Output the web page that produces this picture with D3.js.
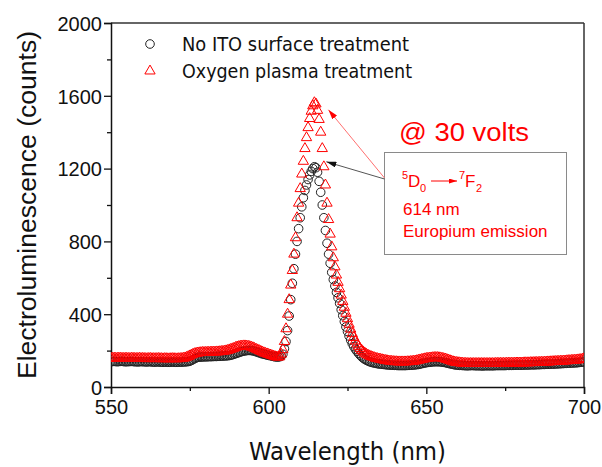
<!DOCTYPE html>
<html>
<head>
<meta charset="utf-8">
<script src="https://cdn.jsdelivr.net/npm/d3@7"></script>
<style>
    body { margin: 0; background: #fff; }
    svg { display: block; }
</style>
</head>
<body>
<div id="chart"></div>
<script>
//Data: one reading every 0.5 nm, 550 - 700 nm
var wavelengths = d3.range(550, 700.25, 0.5);

var noTreatment = [
    140,140,141,140,139,140,141,141,140,139,139,140,140,141,140,139,139,138,139,140,
    139,139,138,138,139,139,138,137,137,138,138,137,137,136,137,137,136,136,137,137,
    137,136,136,137,137,137,138,138,139,140,142,146,151,156,160,163,164,165,165,166,
    166,166,167,167,167,168,168,168,169,169,170,170,171,171,172,173,175,177,180,183,
    186,189,192,195,197,199,200,201,201,200,199,197,194,191,188,185,182,180,178,176,
    174,172,170,168,166,165,165,166,170,180,210,250,310,390,480,570,650,730,800,870,
    930,990,1040,1080,1110,1140,1165,1185,1200,1210,1205,1180,1130,1070,1000,930,860,790,730,680,
    630,590,555,520,490,460,425,392,360,330,305,280,258,238,222,208,196,185,175,166,
    158,152,147,143,139,136,134,132,130,128,127,126,125,124,123,122,121,121,120,120,
    119,119,118,118,118,118,118,118,119,119,120,120,121,122,123,124,126,128,130,132,
    134,135,136,137,138,139,139,139,139,138,137,136,134,132,130,128,126,124,122,121,
    120,119,119,118,118,117,117,117,118,118,118,117,117,117,117,116,116,117,117,117,
    117,117,117,117,118,118,118,118,118,118,118,119,119,119,119,119,120,120,120,120,
    120,120,121,121,121,121,122,122,122,122,123,123,123,124,124,124,125,125,125,126,
    126,126,127,127,128,128,129,129,130,130,131,131,132,132,133,133,134,135,136,137,
    137
];

var oxygenPlasma = [
    158,158,159,158,158,159,158,158,157,158,158,157,157,158,158,157,157,157,158,157,
    157,157,156,156,157,157,156,156,156,156,157,156,156,155,156,156,155,155,156,156,
    156,155,155,156,156,157,158,160,163,167,171,176,180,183,185,187,188,189,190,190,
    190,191,191,191,192,192,192,193,193,194,195,196,197,199,201,204,207,210,213,217,
    220,222,224,225,226,226,225,224,222,219,216,212,208,204,200,196,192,188,185,182,
    179,176,173,170,167,165,164,166,180,205,250,320,400,480,560,640,730,820,930,1010,
    1090,1170,1240,1310,1370,1425,1475,1515,1545,1562,1555,1520,1470,1400,1310,1210,1110,1010,920,840,
    770,710,660,615,575,540,505,470,438,405,375,345,318,293,272,253,237,223,211,201,
    193,186,180,175,171,167,164,161,158,156,154,152,150,148,146,145,143,142,141,140,
    139,139,138,138,138,138,138,138,139,139,140,141,142,143,145,147,149,151,153,155,
    157,158,159,160,161,162,162,162,161,160,158,156,154,151,148,145,142,139,137,135,
    134,133,132,131,130,130,129,129,129,129,129,129,129,129,129,129,129,129,129,129,
    129,129,129,129,130,130,130,130,130,130,130,131,131,131,131,131,131,132,132,132,
    132,132,133,133,133,133,134,134,134,135,135,135,136,136,136,137,137,138,138,139,
    139,140,140,141,141,142,142,143,143,144,145,145,146,147,147,148,149,150,151,153,
    155
];

var xTicks = [550, 600, 650, 700];
var xMinorTicks = [575, 625, 675];
var yTicks = [0, 400, 800, 1200, 1600, 2000];
var yMinorTicks = [200, 600, 1000, 1400, 1800];
var legendLabels = ["No ITO surface treatment", "Oxygen plasma treatment"];

var red = "#ff0000";
var sansArial = "'Liberation Sans', Arial, sans-serif";
var sansTahoma = "'DejaVu Sans Condensed', 'DejaVu Sans', Tahoma, sans-serif";

var svg = d3.select("#chart").append("svg")
    .attr("width", 602)
    .attr("height", 467);

var x = d3.scaleLinear().domain([550, 700]).range([111, 584]);
var y = d3.scaleLinear().domain([0, 2000]).range([387, 23]);

var defs = svg.append("defs");

defs.append("clipPath")
    .attr("id", "plotClip")
    .append("rect")
    .attr("x", x(550))
    .attr("y", y(2000))
    .attr("width", x(700) - x(550))
    .attr("height", y(0) - y(2000));

function arrowHead(id, color, len, wid) {
    defs.append("marker")
        .attr("id", id)
        .attr("viewBox", "0 0 " + len + " " + wid)
        .attr("refX", len)
        .attr("refY", wid / 2)
        .attr("markerWidth", len)
        .attr("markerHeight", wid)
        .attr("markerUnits", "userSpaceOnUse")
        .attr("orient", "auto")
        .append("path")
        .attr("d", "M0,0 L" + len + "," + (wid / 2) + " L0," + wid + " Z")
        .style("fill", color);
}
arrowHead("arrowBlack", "#111", 10, 6);
arrowHead("arrowRed", red, 10, 6);
arrowHead("arrowSmall", red, 8, 5);

//Frame (top and right)
svg.append("line")
    .attr("x1", x(550)).attr("x2", x(700))
    .attr("y1", y(2000)).attr("y2", y(2000))
    .style("stroke", "#333").style("stroke-width", 1.5);
svg.append("line")
    .attr("x1", x(700)).attr("x2", x(700))
    .attr("y1", y(2000)).attr("y2", y(0))
    .style("stroke", "#333").style("stroke-width", 1.5);

//Axes
var xAxis = svg.append("g")
    .attr("transform", "translate(0," + y(0) + ")")
    .call(d3.axisBottom(x).tickValues(xTicks).tickSize(7).tickPadding(3).tickFormat(d3.format("d")));
svg.append("g")
    .attr("transform", "translate(0," + y(0) + ")")
    .call(d3.axisBottom(x).tickValues(xMinorTicks).tickSize(4).tickFormat(""))
    .select(".domain").remove();

var yAxis = svg.append("g")
    .attr("transform", "translate(" + x(550) + ",0)")
    .call(d3.axisLeft(y).tickValues(yTicks).tickSize(7).tickPadding(2).tickFormat(d3.format("d")));
svg.append("g")
    .attr("transform", "translate(" + x(550) + ",0)")
    .call(d3.axisLeft(y).tickValues(yMinorTicks).tickSize(4).tickFormat(""))
    .select(".domain").remove();

svg.selectAll(".domain").style("stroke", "#111").style("stroke-width", 1.5);
svg.selectAll(".tick line").style("stroke", "#111").style("stroke-width", 1.3);
svg.selectAll(".tick text")
    .style("font-family", sansArial)
    .style("font-size", "20px")
    .style("fill", "#111");
xAxis.selectAll(".tick text").attr("dy", "0.85em");
yAxis.selectAll(".tick text").attr("dy", "0.36em");

//Axis titles
svg.append("text")
    .attr("x", (x(550) + x(700)) / 2)
    .attr("y", 460)
    .attr("text-anchor", "middle")
    .attr("textLength", 197)
    .attr("lengthAdjust", "spacingAndGlyphs")
    .style("font-family", sansTahoma)
    .style("font-size", "24px")
    .style("fill", "#111")
    .text("Wavelength (nm)");

svg.append("text")
    .attr("transform", "translate(36," + ((y(0) + y(2000)) / 2) + ") rotate(-90)")
    .attr("text-anchor", "middle")
    .attr("textLength", 348)
    .attr("lengthAdjust", "spacingAndGlyphs")
    .style("font-family", sansArial)
    .style("font-size", "26px")
    .style("fill", "#111")
    .text("Electroluminescence (counts)");

//Data points
var plot = svg.append("g").attr("clip-path", "url(#plotClip)");

plot.selectAll("circle.noItoPoint")
    .data(noTreatment)
    .enter()
    .append("circle")
    .attr("class", "noItoPoint")
    .attr("cx", function (d, i) { return x(wavelengths[i]); })
    .attr("cy", function (d) { return y(d); })
    .attr("r", 4.3)
    .style("fill", "none")
    .style("stroke", "#222")
    .style("stroke-width", 1);

var triangle = d3.symbol().type(d3.symbolTriangle).size(46);

plot.selectAll("path.plasmaPoint")
    .data(oxygenPlasma)
    .enter()
    .append("path")
    .attr("class", "plasmaPoint")
    .attr("d", triangle)
    .attr("transform", function (d, i) {
        return "translate(" + x(wavelengths[i]) + "," + y(d) + ")";
    })
    .style("fill", "none")
    .style("stroke", red)
    .style("stroke-width", 1);

//Legend
var legend = svg.append("g");
legend.append("circle")
    .attr("cx", 150).attr("cy", 44).attr("r", 4.3)
    .style("fill", "none").style("stroke", "#222");
legend.append("path")
    .attr("d", triangle)
    .attr("transform", "translate(150,71)")
    .style("fill", "none").style("stroke", red);
legend.selectAll("text")
    .data(legendLabels)
    .enter()
    .append("text")
    .attr("x", 182)
    .attr("y", function (d, i) { return 51 + i * 27; })
    .attr("textLength", function (d, i) { return i === 0 ? 227 : 230; })
    .attr("lengthAdjust", "spacingAndGlyphs")
    .style("font-family", sansTahoma)
    .style("font-size", "20px")
    .style("fill", "#111")
    .text(function (d) { return d; });

//Annotation
svg.append("text")
    .attr("x", 399)
    .attr("y", 141)
    .attr("textLength", 130)
    .attr("lengthAdjust", "spacingAndGlyphs")
    .style("font-family", sansArial)
    .style("font-size", "26px")
    .style("fill", red)
    .text("@ 30 volts");

svg.append("rect")
    .attr("x", 384.5)
    .attr("y", 152.5)
    .attr("width", 182)
    .attr("height", 102)
    .style("fill", "#fff")
    .style("stroke", "#8a8a8a")
    .style("stroke-width", 1);

svg.append("line")
    .attr("x1", 384.5).attr("y1", 179)
    .attr("x2", x(614.5) + 12).attr("y2", y(1210) - 5)
    .style("stroke", "#555")
    .style("stroke-width", 1)
    .attr("marker-end", "url(#arrowBlack)");

svg.append("line")
    .attr("x1", 384.5).attr("y1", 178)
    .attr("x2", x(614.5) + 14).attr("y2", y(1562) + 7)
    .style("stroke", "#ff7070")
    .style("stroke-width", 1)
    .attr("marker-end", "url(#arrowRed)");

var note = svg.append("g")
    .style("font-family", sansArial)
    .style("fill", red);

var level = note.append("text").attr("y", 187).style("font-size", "17px");
level.append("tspan").attr("x", 402).attr("dy", -8).style("font-size", "11px").text("5");
level.append("tspan").attr("x", 408).attr("dy", 8).text("D");
level.append("tspan").attr("x", 420).attr("dy", 5).style("font-size", "11px").text("0");

note.append("line")
    .attr("x1", 431).attr("y1", 181)
    .attr("x2", 457).attr("y2", 181)
    .style("stroke", red)
    .style("stroke-width", 1)
    .attr("marker-end", "url(#arrowSmall)");

var level2 = note.append("text").attr("y", 187).style("font-size", "17px");
level2.append("tspan").attr("x", 459).attr("dy", -8).style("font-size", "11px").text("7");
level2.append("tspan").attr("x", 465).attr("dy", 8).text("F");
level2.append("tspan").attr("x", 476).attr("dy", 5).style("font-size", "11px").text("2");

note.append("text")
    .attr("x", 403).attr("y", 215)
    .style("font-size", "17px")
    .text("614 nm");

note.append("text")
    .attr("x", 403).attr("y", 237)
    .style("font-size", "17px")
    .text("Europium emission");
</script>
</body>
</html>
